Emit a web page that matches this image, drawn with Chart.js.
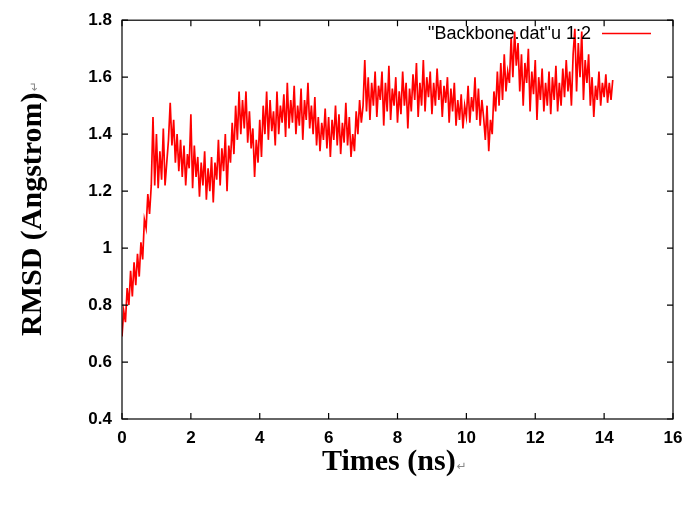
<!DOCTYPE html>
<html>
<head>
<meta charset="utf-8">
<script src="https://cdn.jsdelivr.net/npm/chart.js@4"></script>
<style>
  html, body { margin: 0; padding: 0; background: #fff; }
  #wrap { width: 693px; height: 508px; }
</style>
</head>
<body>
<div id="wrap"><canvas id="rmsd" width="693" height="508"></canvas></div>
<script>
// RMSD of the backbone, one sample every 0.05 ns
const timeStep = 0.05;
const rmsd = [
  0.69, 0.78, 0.74, 0.86, 0.80, 0.92, 0.83, 0.95, 0.87, 0.98,
  0.90, 1.02, 0.96, 1.10, 1.07, 1.19, 1.12, 1.22, 1.46, 1.22,
  1.40, 1.21, 1.34, 1.24, 1.42, 1.22, 1.30, 1.38, 1.51, 1.36,
  1.45, 1.30, 1.40, 1.27, 1.38, 1.25, 1.36, 1.22, 1.33, 1.28,
  1.47, 1.21, 1.36, 1.25, 1.32, 1.18, 1.30, 1.22, 1.34, 1.17,
  1.28, 1.20, 1.32, 1.16, 1.30, 1.24, 1.38, 1.22, 1.35, 1.27,
  1.40, 1.20, 1.36, 1.30, 1.44, 1.33, 1.50, 1.38, 1.55, 1.40,
  1.52, 1.42, 1.55, 1.37, 1.48, 1.35, 1.42, 1.25, 1.38, 1.30,
  1.45, 1.32, 1.50, 1.40, 1.55, 1.38, 1.52, 1.41, 1.48, 1.36,
  1.55, 1.40, 1.50, 1.44, 1.54, 1.39, 1.58, 1.42, 1.52, 1.44,
  1.57, 1.40, 1.50, 1.43, 1.56, 1.38, 1.52, 1.45, 1.58, 1.42,
  1.50, 1.40, 1.53, 1.36, 1.46, 1.34, 1.44, 1.38, 1.49, 1.35,
  1.46, 1.32, 1.45, 1.38, 1.50, 1.36, 1.47, 1.33, 1.44, 1.37,
  1.51, 1.36, 1.46, 1.32, 1.40, 1.34, 1.48, 1.40, 1.52, 1.44,
  1.50, 1.66, 1.48, 1.60, 1.45, 1.58, 1.50, 1.62, 1.46, 1.57,
  1.52, 1.62, 1.43, 1.58, 1.48, 1.64, 1.45, 1.56, 1.50, 1.60,
  1.44, 1.55, 1.47, 1.62, 1.50, 1.58, 1.42, 1.56, 1.48, 1.61,
  1.52, 1.65, 1.46, 1.58, 1.50, 1.66, 1.48, 1.60, 1.53, 1.62,
  1.47, 1.58, 1.50, 1.63, 1.52, 1.59, 1.46, 1.57, 1.51, 1.60,
  1.44, 1.56, 1.48, 1.58, 1.43, 1.52, 1.45, 1.54, 1.42, 1.50,
  1.46, 1.57, 1.44, 1.53, 1.48, 1.60, 1.45, 1.56, 1.43, 1.52,
  1.46, 1.38, 1.50, 1.34, 1.45, 1.40, 1.55, 1.48, 1.62, 1.50,
  1.65, 1.52, 1.68, 1.55, 1.62, 1.58, 1.74, 1.60, 1.76, 1.64,
  1.72, 1.55, 1.68, 1.50, 1.65, 1.58, 1.70, 1.48, 1.62, 1.54,
  1.66, 1.45, 1.60, 1.52, 1.63, 1.48, 1.58, 1.50, 1.62, 1.47,
  1.60, 1.52, 1.64, 1.48, 1.58, 1.50, 1.63, 1.53, 1.66, 1.55,
  1.62, 1.50, 1.68, 1.77, 1.55, 1.72, 1.60, 1.76, 1.52, 1.66,
  1.58, 1.68, 1.50, 1.60, 1.46, 1.57, 1.52, 1.62, 1.50, 1.58,
  1.53, 1.61, 1.51, 1.58, 1.52, 1.59
];
const xTicks = [0, 2, 4, 6, 8, 10, 12, 14, 16];
const yTicks = [0.4, 0.6, 0.8, 1, 1.2, 1.4, 1.6, 1.8];
const seriesLabel = '"Backbone.dat"u 1:2';
const xTitle = 'Times (ns)';
const yTitle = 'RMSD (Angstrom)';

const points = rmsd.map((v, i) => ({ x: +(i * timeStep).toFixed(2), y: v }));

const tickFont = { family: 'Liberation Sans, Arial, sans-serif', size: 17, weight: 'bold' };
const titleFont = 'bold 30px "Liberation Serif", "Times New Roman", serif';

// gnuplot style box with inward ticks, titles and key
const gnuplotFrame = {
  id: 'gnuplotFrame',
  afterDatasetsDraw(chart) {
    const { ctx, chartArea: a, scales } = chart;
    ctx.save();
    ctx.strokeStyle = '#000';
    ctx.lineWidth = 1.2;
    ctx.strokeRect(a.left, a.top, a.right - a.left, a.bottom - a.top);
    ctx.beginPath();
    xTicks.forEach(t => {
      const px = scales.x.getPixelForValue(t);
      ctx.moveTo(px, a.bottom); ctx.lineTo(px, a.bottom - 6);
      ctx.moveTo(px, a.top); ctx.lineTo(px, a.top + 6);
    });
    yTicks.forEach(t => {
      const py = scales.y.getPixelForValue(t);
      ctx.moveTo(a.left, py); ctx.lineTo(a.left + 6, py);
      ctx.moveTo(a.right, py); ctx.lineTo(a.right - 6, py);
    });
    ctx.stroke();

    // key
    ctx.font = '18px "Liberation Sans", Arial, sans-serif';
    ctx.fillStyle = '#000';
    ctx.textAlign = 'right';
    ctx.textBaseline = 'middle';
    ctx.fillText(seriesLabel, 591, 34);
    ctx.beginPath();
    ctx.strokeStyle = '#ff0000';
    ctx.lineWidth = 1.3;
    ctx.moveTo(602, 33.5); ctx.lineTo(651, 33.5);
    ctx.stroke();

    // axis titles
    ctx.fillStyle = '#000';
    ctx.font = titleFont;
    ctx.textAlign = 'left';
    ctx.textBaseline = 'alphabetic';
    const xw = ctx.measureText(xTitle).width;
    const xs = 322;
    ctx.fillText(xTitle, xs, 470);
    ctx.font = '12px "DejaVu Sans", sans-serif';
    ctx.fillStyle = '#888';
    ctx.fillText('\u21b5', xs + xw + 1, 470);

    ctx.save();
    ctx.translate(41, 0);
    ctx.rotate(-Math.PI / 2);
    ctx.fillStyle = '#000';
    ctx.font = titleFont;
    const yw = ctx.measureText(yTitle).width;
    const ys = -336;
    ctx.fillText(yTitle, ys, 0);
    ctx.font = '12px "DejaVu Sans", sans-serif';
    ctx.fillStyle = '#888';
    ctx.fillText('\u21b5', ys + yw + 1, -3);
    ctx.restore();
    ctx.restore();
  }
};

new Chart(document.getElementById('rmsd'), {
  type: 'line',
  data: {
    datasets: [{
      label: seriesLabel,
      data: points,
      borderColor: '#ff0000',
      borderWidth: 1.7,
      pointRadius: 0,
      tension: 0,
      fill: false
    }]
  },
  options: {
    responsive: false,
    animation: false,
    devicePixelRatio: 1,
    layout: { padding: { left: 0, top: 18, right: 20, bottom: 0 } },
    plugins: { legend: { display: false }, tooltip: { enabled: false } },
    scales: {
      x: {
        type: 'linear',
        min: 0, max: 16,
        afterBuildTicks: s => { s.ticks = xTicks.map(v => ({ value: v })); },
        afterFit: s => { s.height = 89; },
        grid: { display: false, drawTicks: false, tickLength: 0 },
        border: { display: false },
        ticks: { color: '#000', font: tickFont, padding: 9, maxRotation: 0, autoSkip: false }
      },
      y: {
        type: 'linear',
        min: 0.4, max: 1.8,
        afterBuildTicks: s => { s.ticks = yTicks.map(v => ({ value: v })); },
        afterFit: s => { s.width = 122; },
        grid: { display: false, drawTicks: false, tickLength: 0 },
        border: { display: false },
        ticks: { color: '#000', font: tickFont, padding: 10, callback: v => String(v) }
      }
    }
  },
  plugins: [gnuplotFrame]
});
</script>
</body>
</html>
